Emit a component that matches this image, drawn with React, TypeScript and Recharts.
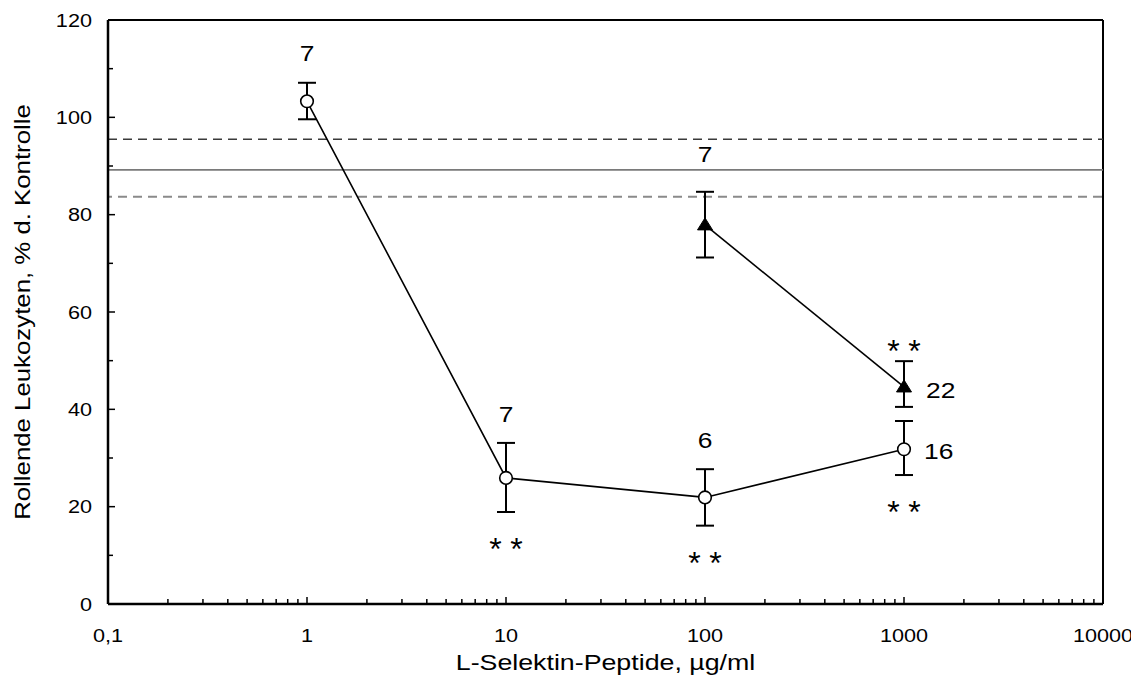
import React from 'react';
import { ComposedChart, XAxis, YAxis, Scatter, ErrorBar, ReferenceLine, Label } from 'recharts';

// ---- data ----
const circleX = [1, 10, 100, 1000];
const circleY = [103.3, 25.9, 21.9, 31.8];
const circleErrLow = [3.7, 7.0, 5.8, 5.3];
const circleErrHigh = [3.8, 7.2, 5.8, 5.8];
const circleN = ['7', '7', '6', '16'];
const circleNPlace = ['above', 'above', 'above', 'right'];
const circleStars = [false, true, true, true];

const triX = [100, 1000];
const triY = [77.9, 44.6];
const triErrLow = [6.7, 4.1];
const triErrHigh = [6.8, 5.3];
const triN = ['7', '22'];
const triNPlace = ['above', 'right'];
const triStars = [false, true];

const controlMean = 89.2;
const controlUpper = 95.5;
const controlLower = 83.7;

const xMajorTicks = [0.1, 1, 10, 100, 1000, 10000];
const xTickLabels = ['0,1', '1', '10', '100', '1000', '10000'];
const xMinorSteps = [2, 3, 4, 5, 6, 7, 8, 9];
const yMajorTicks = [0, 20, 40, 60, 80, 100, 120];
const yMinorTicks = [10, 30, 50, 70, 90, 110];

const xTitle = 'L-Selektin-Peptide, µg/ml';
const yTitle = 'Rollende Leukozyten, % d. Kontrolle';

// ---- derived tables ----
const xAllTicks = [
  ...xMajorTicks,
  ...xMajorTicks.slice(0, -1).flatMap((d) => xMinorSteps.map((m) => d * m)),
].sort((a, b) => a - b);
const yAllTicks = [...yMajorTicks, ...yMinorTicks].sort((a, b) => a - b);

const circleData = circleX.map((x, i) => ({ x, y: circleY[i], err: [circleErrLow[i], circleErrHigh[i]] }));
const triData = triX.map((x, i) => ({ x, y: triY[i], err: [triErrLow[i], triErrHigh[i]] }));

const circleAbove = circleX
  .map((x, i) => ({ x, y: circleY[i] + circleErrHigh[i], text: circleN[i], place: circleNPlace[i] }))
  .filter((d) => d.place === 'above');
const circleRight = circleX
  .map((x, i) => ({ x, y: circleY[i], text: circleN[i], place: circleNPlace[i] }))
  .filter((d) => d.place === 'right');
const circleStarPts = circleX
  .map((x, i) => ({ x, y: circleY[i] - circleErrLow[i], s: circleStars[i] }))
  .filter((d) => d.s);

const triAbove = triX
  .map((x, i) => ({ x, y: triY[i] + triErrHigh[i], text: triN[i], place: triNPlace[i] }))
  .filter((d) => d.place === 'above');
const triRight = triX
  .map((x, i) => ({ x, y: triY[i], text: triN[i], place: triNPlace[i] }))
  .filter((d) => d.place === 'right');
const triStarPts = triX
  .map((x, i) => ({ x, y: triY[i] + triErrHigh[i], s: triStars[i] }))
  .filter((d) => d.s);

const FONT = "'Liberation Sans', Arial, sans-serif";

const StretchText = ({ x, y, size, anchor = 'middle', angle = 0, stretch = 1.2, children }: any) => (
  <text
    transform={`translate(${x},${y}) rotate(${angle}) scale(${stretch},1)`}
    textAnchor={anchor}
    dominantBaseline="central"
    fontFamily={FONT}
    fontSize={size}
    fill="#000"
  >
    {children}
  </text>
);

const Stars = ({ cx, cy }: any) => (
  <g>
    <text x={cx - 10.5} y={cy + 18} textAnchor="middle" fontFamily={FONT} fontSize={32} fill="#000">*</text>
    <text x={cx + 10.5} y={cy + 18} textAnchor="middle" fontFamily={FONT} fontSize={32} fill="#000">*</text>
  </g>
);

const isMajorX = (v: number) => xMajorTicks.findIndex((m) => Math.abs(m - v) < 1e-6 * m);

const XTick = (props: any) => {
  const { x, y, payload } = props;
  const i = isMajorX(payload.value);
  const major = i >= 0;
  return (
    <g>
      <line x1={x} x2={x} y1={y} y2={y - (major ? 7 : 5)} stroke="#000" strokeWidth={1.5} />
      {major && (
        <StretchText x={x} y={y + 31} size={19} stretch={1.14}>
          {xTickLabels[i]}
        </StretchText>
      )}
    </g>
  );
};

const YTick = (props: any) => {
  const { x, y, payload } = props;
  const major = yMajorTicks.includes(payload.value);
  return (
    <g>
      <line x1={x} x2={x + (major ? 7 : 5)} y1={y} y2={y} stroke="#000" strokeWidth={1.5} />
      {major && (
        <StretchText x={x - 16} y={y} size={19} anchor="end" stretch={1.14}>
          {String(payload.value)}
        </StretchText>
      )}
    </g>
  );
};

const CircleShape = ({ cx, cy }: any) => (
  <circle cx={cx} cy={cy} r={6.3} fill="#fff" stroke="#000" strokeWidth={1.6} />
);
const TriShape = ({ cx, cy }: any) => (
  <polygon points={`${cx},${cy - 7} ${cx - 7.5},${cy + 5} ${cx + 7.5},${cy + 5}`} fill="#000" stroke="#000" />
);

const aboveShape = (off: number) => ({ cx, cy, payload }: any) => (
  <StretchText x={cx} y={cy - off} size={22}>{payload.text}</StretchText>
);
const rightShape = (dx: number, dy: number) => ({ cx, cy, payload }: any) => (
  <StretchText x={cx + dx} y={cy + dy} size={22} anchor="start">{payload.text}</StretchText>
);
const starBelow = ({ cx, cy }: any) => <Stars cx={cx} cy={cy + 30} />;
const starAbove = ({ cx, cy }: any) => <Stars cx={cx} cy={cy - 17} />;

const XTitle = (props: any) => {
  const vb = props.viewBox;
  return (
    <StretchText x={vb.x + vb.width / 2} y={vb.y + 58} size={22.3}>
      {xTitle}
    </StretchText>
  );
};
const YTitle = (props: any) => {
  const vb = props.viewBox;
  return (
    <StretchText x={vb.x + 15} y={vb.y + vb.height / 2} size={21.5} angle={-90}>
      {yTitle}
    </StretchText>
  );
};

export default function App() {
  return (
    <ComposedChart width={1131} height={682} margin={{ top: 12, right: 36, left: 0, bottom: 0 }}>
      <XAxis
        dataKey="x"
        type="number"
        scale="log"
        domain={[0.1, 10000]}
        allowDataOverflow
        ticks={xAllTicks}
        interval={0}
        tickSize={0}
        tickMargin={0}
        tick={<XTick />}
        tickLine={false}
        axisLine={{ stroke: '#000', strokeWidth: 2.5 }}
        height={86}
      >
        <Label content={<XTitle />} />
      </XAxis>
      <YAxis
        dataKey="y"
        type="number"
        domain={[0, 120]}
        allowDataOverflow
        ticks={yAllTicks}
        interval={0}
        tickSize={0}
        tickMargin={0}
        tick={<YTick />}
        tickLine={false}
        axisLine={{ stroke: '#000', strokeWidth: 2.5 }}
        width={100}
      >
        <Label content={<YTitle />} />
      </YAxis>

      <ReferenceLine y={120} stroke="#000" strokeWidth={2} />
      <ReferenceLine x={10000} stroke="#000" strokeWidth={2} />
      <ReferenceLine y={controlUpper} stroke="#3a3a3a" strokeWidth={1.3} strokeDasharray="9 6" />
      <ReferenceLine y={controlMean} stroke="#7a7a7a" strokeWidth={1.6} />
      <ReferenceLine y={controlLower} stroke="#8a8a8a" strokeWidth={2} strokeDasharray="9 6" strokeDashoffset={-10} />

      <Scatter
        data={circleData}
        isAnimationActive={false}
        line={{ stroke: '#000', strokeWidth: 1.6 }}
        shape={<CircleShape />}
      >
        <ErrorBar dataKey="err" direction="y" width={9} stroke="#000" strokeWidth={2} />
      </Scatter>
      <Scatter
        data={triData}
        isAnimationActive={false}
        line={{ stroke: '#000', strokeWidth: 1.6 }}
        shape={<TriShape />}
      >
        <ErrorBar dataKey="err" direction="y" width={9} stroke="#000" strokeWidth={2} />
      </Scatter>

      <Scatter data={circleAbove} isAnimationActive={false} shape={aboveShape(29)} />
      <Scatter data={circleRight} isAnimationActive={false} shape={rightShape(20, 2)} />
      <Scatter data={circleStarPts} isAnimationActive={false} shape={starBelow} />
      <Scatter data={triAbove} isAnimationActive={false} shape={aboveShape(37)} />
      <Scatter data={triRight} isAnimationActive={false} shape={rightShape(22, 3)} />
      <Scatter data={triStarPts} isAnimationActive={false} shape={starAbove} />
    </ComposedChart>
  );
}
